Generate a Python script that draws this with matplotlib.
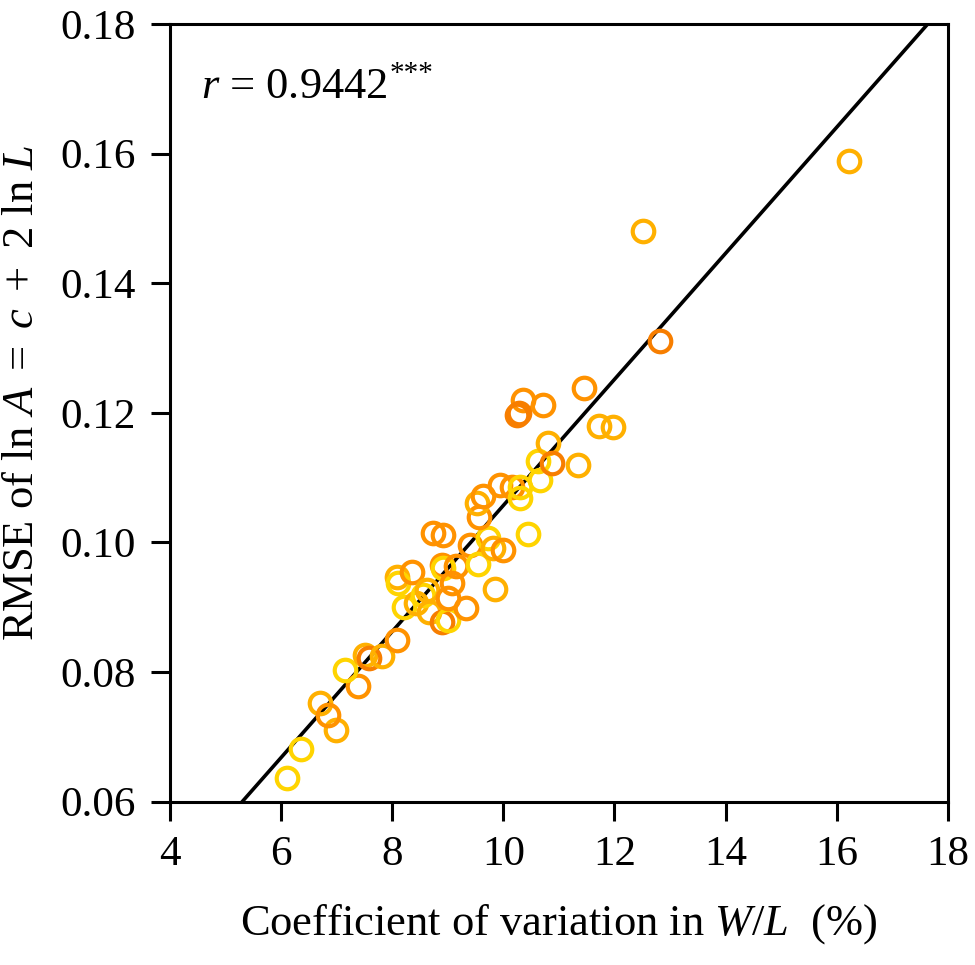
import numpy as np
import matplotlib
matplotlib.use("Agg")
import matplotlib.pyplot as plt

plt.rcParams['font.family'] = ['Liberation Serif', 'DejaVu Serif']
plt.rcParams['mathtext.fontset'] = 'custom'
plt.rcParams['mathtext.rm'] = 'Liberation Serif'
plt.rcParams['mathtext.it'] = 'Liberation Serif:italic'

# Coefficient of variation in W/L (%)
cv = [6.10, 6.36, 6.99, 6.70, 6.84, 7.39, 7.15, 7.51, 7.59, 7.81,
      8.08, 8.08, 8.11, 8.36, 8.22, 8.42, 8.56, 8.62, 8.66, 8.89,
      8.92, 8.89, 9.01, 9.01, 9.07, 9.14, 8.74, 8.92, 9.33, 9.40,
      9.55, 9.73, 9.82, 10.00, 9.85, 10.45, 9.57, 9.52, 9.64, 9.94,
      10.15, 10.30, 10.30, 10.66, 10.62, 10.81, 10.88, 11.35, 11.73, 11.98,
      11.45, 10.36, 10.25, 10.28, 10.72, 12.82, 12.52, 16.22]
# RMSE of ln A = c + 2 ln L
rmse = [0.0636, 0.0682, 0.0710, 0.0753, 0.0734, 0.0779, 0.0803, 0.0826, 0.0821, 0.0825,
        0.0850, 0.0947, 0.0938, 0.0954, 0.0901, 0.0906, 0.0919, 0.0927, 0.0893, 0.0965,
        0.0960, 0.0878, 0.0880, 0.0914, 0.0938, 0.0963, 0.1014, 0.1011, 0.0899, 0.0996,
        0.0967, 0.1007, 0.0991, 0.0989, 0.0929, 0.1013, 0.1040, 0.1061, 0.1071, 0.1089,
        0.1086, 0.1086, 0.1069, 0.1096, 0.1125, 0.1153, 0.1123, 0.1120, 0.1180, 0.1178,
        0.1238, 0.1220, 0.1196, 0.1200, 0.1212, 0.1311, 0.1481, 0.1588]
# colour group per point
group = ['Y', 'Y', 'G', 'G', 'O', 'O', 'Y', 'G', 'D', 'G',
         'O', 'G', 'Y', 'O', 'Y', 'G', 'Y', 'G', 'G', 'O',
         'Y', 'D', 'Y', 'O', 'O', 'O', 'O', 'O', 'O', 'O',
         'Y', 'Y', 'G', 'O', 'G', 'Y', 'O', 'G', 'O', 'O',
         'O', 'Y', 'Y', 'Y', 'Y', 'G', 'D', 'G', 'G', 'G',
         'O', 'O', 'D', 'D', 'O', 'D', 'G', 'G']
palette = {'Y': '#FFD400', 'G': '#FFB000', 'O': '#FF9200', 'D': '#F77E00'}

x_ticks = [4, 6, 8, 10, 12, 14, 16, 18]
y_ticks = [0.06, 0.08, 0.10, 0.12, 0.14, 0.16, 0.18]
y_tick_labels = ['0.06', '0.08', '0.10', '0.12', '0.14', '0.16', '0.18']

fig = plt.figure(figsize=(9.75, 9.65), dpi=100)
ax = fig.add_axes([0.1744, 0.1692, 0.7976, 0.8059])

xs = np.array(cv)
ys = np.array(rmse)
for xi, yi, g in zip(xs, ys, group):
    ax.plot(xi, yi, 'o', ms=15.5, mfc='none', mec=palette[g], mew=3.0, zorder=3)

slope, intercept = np.polyfit(xs, ys, 1)
xl = np.array([4, 18])
ax.plot(xl, slope * xl + intercept, color='black', lw=2.6, zorder=2)

ax.set_xlim(4, 18)
ax.set_ylim(0.06, 0.18)
ax.set_xticks(x_ticks)
ax.set_xticklabels([str(t) for t in x_ticks])
ax.set_yticks(y_ticks)
ax.set_yticklabels(y_tick_labels)
ax.tick_params(direction='out', length=13.5, width=2.2, labelsize=31, pad=11,
               top=False, right=False)
for s in ax.spines.values():
    s.set_linewidth(2.2)

ax.set_xlabel(r'Coefficient of variation in $W/L$  (%)', fontsize=32, labelpad=20)
ax.set_ylabel(r'RMSE of ln $A\ =\ c\ +$ 2 ln $L$', fontsize=32)
ax.yaxis.set_label_coords(-0.165, 0.525)

txt = ax.text(0.04, 0.905, r'$r$ = 0.9442', transform=ax.transAxes,
              fontsize=32, va='baseline', ha='left')
ax.annotate('***', xy=(1.0, 1.0), xycoords=txt, xytext=(1, 4),
            textcoords='offset points', fontsize=21, ha='left', va='top')

fig.savefig('out.png', dpi=100)
